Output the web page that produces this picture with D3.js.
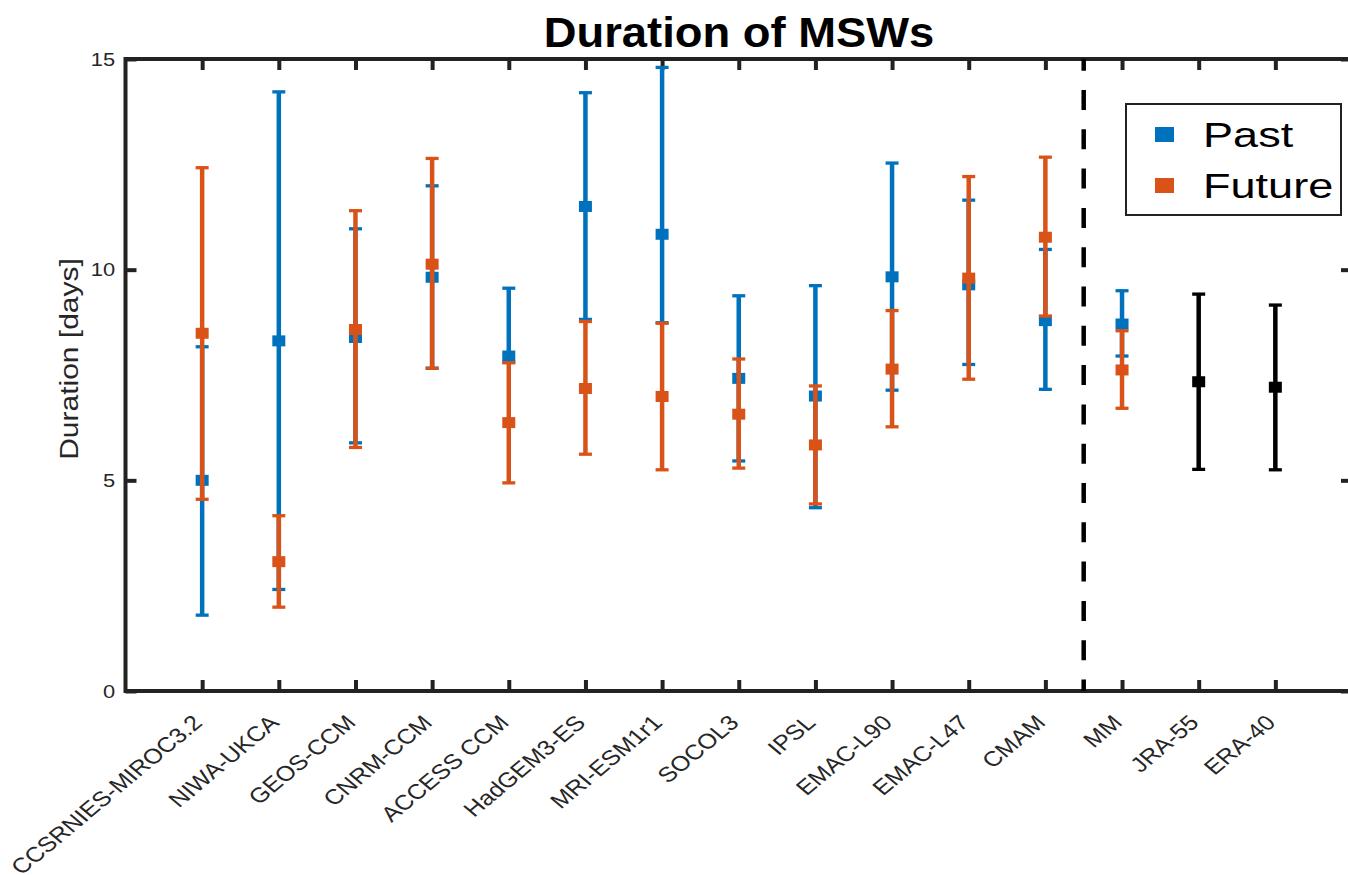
<!DOCTYPE html>
<html>
<head>
<meta charset="utf-8">
<script src="https://cdn.jsdelivr.net/npm/d3@7"></script>
<style>
body { margin: 0; background: #fff; }
text { font-family: "Liberation Sans", Arial, Helvetica, sans-serif; }
</style>
</head>
<body>
<div id="chart"></div>
<script>
// categories along the x axis
var categories = ["CCSRNIES-MIROC3.2", "NIWA-UKCA", "GEOS-CCM", "CNRM-CCM", "ACCESS CCM",
    "HadGEM3-ES", "MRI-ESM1r1", "SOCOL3", "IPSL", "EMAC-L90", "EMAC-L47", "CMAM",
    "MM", "JRA-55", "ERA-40"];

// past (blue) mean and range, models + MM
var pastMean = [5.00, 8.31, 8.39, 9.82, 7.95, 11.50, 10.84, 7.42, 7.00, 9.83, 9.64, 8.79, 8.71];
var pastLow  = [1.80, 2.41, 5.89, 7.66, 7.80, 8.82, 8.74, 5.46, 4.35, 7.14, 7.75, 7.16, 7.95];
var pastHigh = [8.17, 14.22, 10.97, 11.99, 9.56, 14.20, 14.80, 9.38, 9.62, 12.53, 11.65, 10.48, 9.50];

// future (orange)
var futureMean = [8.49, 3.07, 8.58, 10.13, 6.37, 7.18, 6.99, 6.57, 5.84, 7.64, 9.80, 10.77, 7.62];
var futureLow  = [4.55, 1.99, 5.78, 7.66, 4.94, 5.62, 5.25, 5.29, 4.44, 6.27, 7.40, 8.90, 6.71];
var futureHigh = [12.42, 4.16, 11.40, 12.64, 7.79, 8.77, 8.73, 7.88, 7.24, 9.03, 12.21, 12.67, 8.55];

// reanalyses (black): JRA-55, ERA-40
var reanMean = [7.34, 7.21];
var reanLow  = [5.26, 5.25];
var reanHigh = [9.42, 9.16];

var yTicks = [0, 5, 10, 15];
var legendItems = [{label: "Past", color: "#0072BD"}, {label: "Future", color: "#D95319"}];

var W = 1348, H = 875;
var margin = {left: 125.5, right: 1352, top: 59, bottom: 691};

var x = d3.scaleLinear().domain([-1, 15]).range([margin.left, margin.right]);
var y = d3.scaleLinear().domain([0, 15]).range([margin.bottom, margin.top]);

var svg = d3.select("#chart").append("svg")
    .attr("width", W)
    .attr("height", H);

// axes: bottom with labels, top/right just ticks
var xAxis = svg.append("g")
    .attr("transform", `translate(0, ${margin.bottom})`)
    .call(d3.axisBottom(x)
        .tickValues(d3.range(categories.length))
        .tickFormat(i => categories[i])
        .tickSizeInner(-11).tickSizeOuter(0));

// 45 deg labels, the whole figure looks stretched sideways a bit
xAxis.selectAll("text")
    .attr("x", 0).attr("y", 0).attr("dy", null)
    .attr("text-anchor", "end")
    .attr("transform", "translate(1, 33) scale(1.2, 1) rotate(-45)")
    .style("font-size", "21px")
    .attr("fill", "#262626");

svg.append("g")
    .attr("transform", `translate(0, ${margin.top})`)
    .call(d3.axisTop(x).tickValues(d3.range(categories.length))
        .tickFormat("").tickSizeInner(-11).tickSizeOuter(0));

var yAxis = svg.append("g")
    .attr("transform", `translate(${margin.left}, 0)`)
    .call(d3.axisLeft(y).tickValues(yTicks)
        .tickSizeInner(-11).tickSizeOuter(0).tickPadding(9));

yAxis.selectAll("text")
    .style("font-size", "19px")
    .attr("fill", "#262626")
    .attr("transform", "scale(1.15, 1)");

svg.append("g")
    .attr("transform", `translate(${margin.right}, 0)`)
    .call(d3.axisRight(y).tickValues(yTicks)
        .tickFormat("").tickSizeInner(-11).tickSizeOuter(0));

svg.selectAll(".domain").remove();
svg.selectAll(".tick line").attr("stroke", "#222").attr("stroke-width", 4);

// box
svg.append("rect")
    .attr("x", margin.left).attr("y", margin.top)
    .attr("width", margin.right - margin.left).attr("height", margin.bottom - margin.top)
    .attr("fill", "none")
    .attr("stroke", "#222")
    .attr("stroke-width", 4);

// dashed separator between models and MM/reanalyses
svg.append("line")
    .attr("x1", x(11.5)).attr("x2", x(11.5))
    .attr("y1", y(15)).attr("y2", y(0))
    .attr("stroke", "#000")
    .attr("stroke-width", 4.5)
    .attr("stroke-dasharray", "20 19.3")
    .attr("stroke-dashoffset", 8.3);

function drawSeries(idx, mean, low, high, color) {
    var data = idx.map((d, k) => ({i: d, m: mean[k], lo: low[k], hi: high[k]}));
    var g = svg.append("g");
    var cw = 6.5;

    g.selectAll("line.bar").data(data).enter().append("line")
        .attr("x1", d => x(d.i)).attr("x2", d => x(d.i))
        .attr("y1", d => y(d.lo)).attr("y2", d => y(d.hi))
        .attr("stroke", color).attr("stroke-width", 4.5);

    ["lo", "hi"].forEach(k => {
        g.selectAll("line.cap" + k).data(data).enter().append("line")
            .attr("x1", d => x(d.i) - cw).attr("x2", d => x(d.i) + cw)
            .attr("y1", d => y(d[k])).attr("y2", d => y(d[k]))
            .attr("stroke", color).attr("stroke-width", 3.3);
    });

    g.selectAll("rect").data(data).enter().append("rect")
        .attr("x", d => x(d.i) - 6.5).attr("y", d => y(d.m) - 5.5)
        .attr("width", 13).attr("height", 11)
        .attr("fill", color);
}

drawSeries(d3.range(13), pastMean, pastLow, pastHigh, "#0072BD");
drawSeries(d3.range(13), futureMean, futureLow, futureHigh, "#D95319");
drawSeries([13, 14], reanMean, reanLow, reanHigh, "#000");

// title
svg.append("text")
    .attr("transform", "translate(739, 47) scale(1.08, 1)")
    .attr("text-anchor", "middle")
    .style("font-size", "42px")
    .style("font-weight", "bold")
    .text("Duration of MSWs");

// y label
svg.append("text")
    .attr("transform", "translate(78, 359) rotate(-90) scale(1.2, 1)")
    .attr("text-anchor", "middle")
    .style("font-size", "25px")
    .attr("fill", "#262626")
    .text("Duration [days]");

// legend
var legend = svg.append("g");
legend.append("rect")
    .attr("x", 1126).attr("y", 104)
    .attr("width", 215).attr("height", 111)
    .attr("fill", "#fff")
    .attr("stroke", "#222")
    .attr("stroke-width", 2);

var items = legend.selectAll("g.item").data(legendItems).enter().append("g")
    .attr("transform", (d, i) => `translate(0, ${i * 51})`);
items.append("rect")
    .attr("x", 1155).attr("y", 127)
    .attr("width", 19).attr("height", 15)
    .attr("fill", d => d.color);
items.append("text")
    .attr("transform", "translate(1203, 147) scale(1.27, 1)")
    .style("font-size", "35.5px")
    .attr("fill", "#000")
    .text(d => d.label);
</script>
</body>
</html>
